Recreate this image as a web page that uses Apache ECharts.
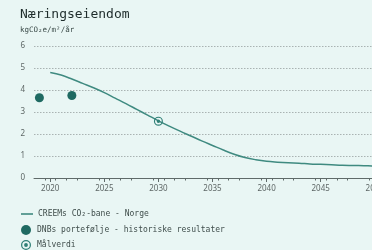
<!DOCTYPE html>
<html>
<head>
<meta charset="utf-8">
<script src="https://cdn.jsdelivr.net/npm/echarts@6/dist/echarts.min.js"></script>
<style>
  html, body { margin: 0; padding: 0; background: #e9f6f4; }
  #div1 { width: 372px; height: 250px; }
</style>
</head>
<body>
<div id="div1"></div>
<script>
// CREEM-bane (år, kgCO2e/m2/år)
var baneYears = [2020, 2021, 2022, 2023, 2024, 2025, 2026, 2027, 2028, 2029, 2030, 2031, 2032, 2033, 2034, 2035, 2036, 2037, 2038, 2039, 2040, 2041, 2042, 2043, 2044, 2045, 2046, 2047, 2048, 2049, 2050, 2051, 2052];
var baneValues = [4.8, 4.68, 4.5, 4.3, 4.1, 3.88, 3.63, 3.38, 3.12, 2.86, 2.6, 2.36, 2.13, 1.91, 1.69, 1.48, 1.27, 1.08, 0.93, 0.83, 0.76, 0.72, 0.69, 0.67, 0.64, 0.62, 0.6, 0.58, 0.57, 0.56, 0.55, 0.55, 0.55];
// DNBs portefølje
var porteYears = [2019, 2022];
var porteValues = [3.65, 3.75];
// Målverdi
var maalYears = [2030];
var maalValues = [2.58];
var xTicks = [2020, 2025, 2030, 2035, 2040, 2045, 2050];
var yTicks = [0, 1, 2, 3, 4, 5, 6];

var mono = '"DejaVu Sans Mono", "Liberation Mono", monospace';
var ringDot = 'path://M0,-10A10,10 0 1 1 0,10A10,10 0 1 1 0,-10ZM0,-7.5A7.5,7.5 0 1 0 0,7.5A7.5,7.5 0 1 0 0,-7.5ZM0,-3.8A3.8,3.8 0 1 1 0,3.8A3.8,3.8 0 1 1 0,-3.8Z';
var names = ['CREEMs CO₂-bane - Norge', 'DNBs portefølje - historiske resultater', 'Målverdi'];
var icons = ['path://M0,4h12v1.6h-12Z', 'circle', ringDot];

function pairs(xs, ys) {
    return xs.map(function (x, i) { return [x, ys[i]]; });
}

function legendAt(i, top) {
    return {
        orient: 'vertical',
        left: 16,
        top: top,
        itemWidth: 12,
        itemHeight: 10,
        itemGap: 0,
        textStyle: { fontFamily: mono, fontSize: 8, color: '#3f4d4b' },
        data: [{ name: names[i], icon: icons[i] }]
    };
}

var chart = echarts.init(document.getElementById('div1'));
var option = {
    backgroundColor: '#e9f6f4',
    animation: false,
    title: {
        text: 'Næringseiendom',
        subtext: 'kgCO₂e/m²/år',
        left: 15,
        top: 3,
        itemGap: 5,
        textStyle: { fontFamily: mono, fontSize: 13, fontWeight: 'normal', color: '#1d2b2a' },
        subtextStyle: { fontFamily: mono, fontSize: 7.5, color: '#3a4a48' }
    },
    legend: [legendAt(0, 205), legendAt(1, 220), legendAt(2, 235)],
    grid: { left: 34, right: -19, top: 46, bottom: 72, outerBoundsMode: 'none' },
    xAxis: {
        type: 'value',
        min: 2018.5,
        max: 2051.5,
        interval: 5,
        axisLine: { show: true, lineStyle: { color: '#5f6a69', width: 1 } },
        axisTick: { show: true, length: 4, lineStyle: { color: '#5f6a69' }, customValues: xTicks },
        minorTick: { show: true, splitNumber: 5, length: 2.5, lineStyle: { color: '#5f6a69' } },
        axisLabel: {
            color: '#5e6766', fontSize: 8, fontFamily: 'Noto Sans', margin: 7,
            customValues: xTicks,
            formatter: function (v) { return String(v); }
        },
        splitLine: { show: false }
    },
    yAxis: {
        type: 'value',
        min: 0,
        max: 6,
        interval: 1,
        axisLine: { show: false },
        axisTick: { show: false },
        axisLabel: { color: '#5e6766', fontSize: 8, fontFamily: 'Noto Sans', margin: 9,
            formatter: function (v) { return yTicks.indexOf(v) >= 0 ? String(v) : ''; } },
        splitLine: { show: true, lineStyle: { color: '#98a2a1', type: [1.5, 1.5], width: 0.8 } }
    },
    series: [
        {
            name: names[0],
            type: 'line',
            smooth: 0.4,
            showSymbol: false,
            data: pairs(baneYears, baneValues),
            lineStyle: { color: '#3f8a80', width: 1.5 },
            itemStyle: { color: '#3f8a80' },
            z: 2
        },
        {
            name: names[1],
            type: 'scatter',
            symbol: 'circle',
            symbolSize: 9,
            data: pairs(porteYears, porteValues),
            itemStyle: { color: '#1f6a62', opacity: 1 },
            z: 3
        },
        {
            name: names[2],
            type: 'scatter',
            symbol: ringDot,
            symbolSize: 9,
            data: pairs(maalYears, maalValues),
            itemStyle: { color: '#2f7f76', opacity: 1 },
            z: 4
        }
    ]
};
chart.setOption(option);
</script>
</body>
</html>
